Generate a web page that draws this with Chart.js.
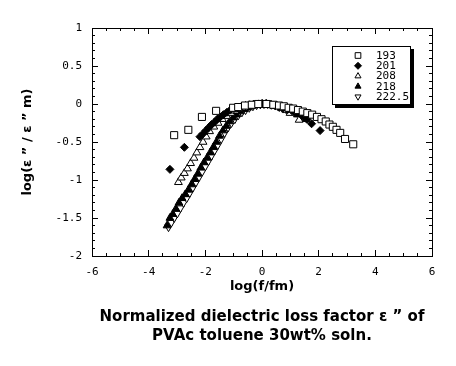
<!DOCTYPE html>
<html>
<head>
<meta charset="utf-8">
<script src="https://cdn.jsdelivr.net/npm/chart.js"></script>
<style>
  body { margin: 0; background: #fff; }
  #wrap { width: 456px; height: 366px; }
</style>
</head>
<body>
<div id="wrap"><canvas id="lossChart" width="456" height="366"></canvas></div>
<script>
// Normalized loss curves
const x193 = [-3.1, -2.6, -2.12, -1.62, -1.02, -0.84, -0.6, -0.36, -0.13, 0.16, 0.4, 0.6, 0.77, 0.94, 1.1, 1.27, 1.44, 1.6, 1.77, 1.94, 2.1, 2.25, 2.38, 2.5, 2.63, 2.76, 2.93, 3.22];
const y193 = [-0.41, -0.34, -0.17, -0.09, -0.05, -0.04, -0.02, -0.01, 0, 0, -0.01, -0.02, -0.03, -0.05, -0.06, -0.08, -0.1, -0.12, -0.14, -0.17, -0.2, -0.23, -0.27, -0.3, -0.34, -0.38, -0.46, -0.53];

const x201 = [-3.25, -2.74, -2.19, -2.08, -1.98, -1.88, -1.78, -1.68, -1.58, -1.47, -1.36, -1.24, -1.12, -0.99, -0.86, -0.72, -0.58, -0.44, -0.29, -0.14, 0.01, 0.16, 0.31, 0.46, 0.61, 0.76, 0.91, 1.06, 1.22, 1.4, 1.58, 1.75, 2.05];
const y201 = [-0.86, -0.57, -0.43, -0.39, -0.35, -0.31, -0.27, -0.24, -0.2, -0.17, -0.14, -0.11, -0.08, -0.06, -0.045, -0.03, -0.02, -0.01, 0, 0, 0, 0, -0.01, -0.02, -0.03, -0.05, -0.07, -0.09, -0.12, -0.15, -0.2, -0.26, -0.35];

const x208 = [-2.95, -2.85, -2.74, -2.63, -2.52, -2.4, -2.3, -2.19, -2.08, -1.97, -1.85, -1.7, -1.55, -1.4, -1.25, -1.1, -0.95, -0.8, -0.64, -0.48, -0.32, -0.16, 0, 0.16, 0.32, 0.5, 0.67, 0.85, 0.99, 1.31];
const y208 = [-1.03, -0.97, -0.91, -0.85, -0.78, -0.71, -0.64, -0.57, -0.5, -0.43, -0.36, -0.3, -0.25, -0.2, -0.16, -0.12, -0.09, -0.07, -0.05, -0.03, -0.02, -0.01, 0, 0, -0.01, -0.03, -0.05, -0.08, -0.12, -0.21];

const x218 = [-3.35, -3.25, -3.15, -3.04, -2.93, -2.82, -2.71, -2.6, -2.49, -2.38, -2.27, -2.16, -2.05, -1.94, -1.83, -1.72, -1.61, -1.5, -1.38, -1.26, -1.14, -1.02, -0.9, -0.77, -0.64, -0.51, -0.38, -0.25, -0.12, 0.01, 0.14, 0.27, 0.4, 0.54, 0.68, 0.82, 0.96, 1.1, 1.25, 1.4, 1.55];
const y218 = [-1.6, -1.5, -1.45, -1.38, -1.3, -1.24, -1.19, -1.13, -1.06, -0.99, -0.92, -0.84, -0.77, -0.71, -0.64, -0.57, -0.5, -0.42, -0.35, -0.29, -0.23, -0.18, -0.14, -0.1, -0.07, -0.05, -0.03, -0.015, -0.005, 0, 0, -0.01, -0.02, -0.03, -0.05, -0.07, -0.09, -0.11, -0.14, -0.17, -0.2];

const x222 = [-3.3, -3.2, -3.1, -2.99, -2.88, -2.77, -2.66, -2.55, -2.44, -2.33, -2.22, -2.11, -2.0, -1.89, -1.78, -1.67, -1.56, -1.44, -1.32, -1.2, -1.08, -0.96, -0.84, -0.71, -0.58, -0.45, -0.32, -0.19, -0.06, 0.07, 0.2, 0.33, 0.47, 0.61, 0.75, 0.9];
const y222 = [-1.62, -1.56, -1.5, -1.44, -1.37, -1.3, -1.24, -1.17, -1.1, -1.03, -0.96, -0.89, -0.82, -0.75, -0.68, -0.61, -0.54, -0.46, -0.38, -0.31, -0.25, -0.2, -0.15, -0.11, -0.08, -0.05, -0.03, -0.015, -0.005, 0, 0, -0.01, -0.02, -0.04, -0.06, -0.08];

const seriesLabels = ['193', '201', '208', '218', '222.5'];
const xRange = [-6, 6];
const yRange = [-2, 1];
const xTitle = 'log(f/fm)';
const yTitle = 'log(ε ” / ε ” m)';
const caption = ['Normalized dielectric loss factor ε ” of', 'PVAc toluene 30wt% soln.'];

const toPoints = (xs, ys) => xs.map((x, i) => ({ x: x, y: ys[i] }));
// plain numbers on the ticks: 1, 0.5, 0, -0.5 ...
const plainTick = v => String(Math.round(v * 10) / 10);

const monoFont = { family: '"DejaVu Sans Mono", monospace', size: 11 };
const boldFont = { family: '"DejaVu Sans", sans-serif', size: 13, weight: 'bold' };

// extra axes only draw the inward tick marks on each side of the frame
function tickAxis(pos, isX, step, len) {
  const r = isX ? xRange : yRange;
  return {
    type: 'linear',
    axis: isX ? 'x' : 'y',
    position: pos,
    min: r[0],
    max: r[1],
    weight: 0,
    ticks: { stepSize: step, display: false },
    grid: { drawOnChartArea: false, tickLength: len, tickColor: '#000', tickWidth: 1 },
    border: { color: '#000', width: 1 },
    afterFit: s => { if (isX) s.height = 0; else s.width = 0; }
  };
}

// legend box with drop shadow inside the plot
const legendBox = {
  id: 'legendBox',
  afterDatasetsDraw(chart) {
    const ctx = chart.ctx;
    const a = chart.chartArea;
    const bx = a.right - 100, by = a.top + 18, bw = 79, bh = 59;
    ctx.save();
    ctx.fillStyle = '#000';
    ctx.fillRect(bx + 3, by + 3, bw, bh);
    ctx.fillStyle = '#fff';
    ctx.fillRect(bx, by, bw, bh);
    ctx.strokeStyle = '#000';
    ctx.lineWidth = 1;
    ctx.strokeRect(bx + 0.5, by + 0.5, bw - 1, bh - 1);
    ctx.font = '11px "DejaVu Sans Mono", monospace';
    ctx.textBaseline = 'middle';
    chart.data.datasets.forEach((ds, i) => {
      const cy = by + 9.5 + i * 10.3;
      ctx.fillStyle = ds.backgroundColor;
      ctx.strokeStyle = '#000';
      ctx.lineWidth = 1;
      Chart.helpers.drawPoint(ctx, {
        pointStyle: ds.pointStyle,
        rotation: ds.rotation || 0,
        radius: ds.pointStyle === 'rect' ? 4 : 3.5,
        borderWidth: 1
      }, bx + 26, cy);
      ctx.fillStyle = '#000';
      ctx.fillText(ds.label, bx + 44, cy + 0.5);
    });
    ctx.restore();
  }
};

function series(i, xs, ys, style, fill, radius, rot) {
  return {
    label: seriesLabels[i],
    data: toPoints(xs, ys),
    pointStyle: style,
    rotation: rot || 0,
    pointRadius: radius,
    backgroundColor: fill,
    borderColor: '#000',
    borderWidth: 1
  };
}

new Chart(document.getElementById('lossChart'), {
  type: 'scatter',
  data: {
    datasets: [
      series(0, x193, y193, 'rect', '#fff', 5),
      series(1, x201, y201, 'rectRot', '#000', 4),
      series(2, x208, y208, 'triangle', '#fff', 4.5),
      series(3, x218, y218, 'triangle', '#000', 4.5),
      series(4, x222, y222, 'triangle', '#fff', 4.5, 180)
    ]
  },
  options: {
    responsive: false,
    animation: false,
    layout: { padding: { left: 0, right: 24, top: 28, bottom: 20.5 } },
    plugins: {
      legend: { display: false },
      tooltip: { enabled: false },
      title: {
        display: true,
        position: 'bottom',
        fullSize: false,
        text: caption,
        color: '#000',
        font: { family: '"DejaVu Sans", sans-serif', size: 15, weight: 'bold', lineHeight: 19 / 15 },
        padding: { top: 7.5, bottom: 0 }
      }
    },
    scales: {
      x: {
        type: 'linear',
        position: 'bottom',
        min: xRange[0],
        max: xRange[1],
        weight: 1,
        ticks: { stepSize: 2, color: '#000', font: monoFont, padding: 16, maxRotation: 0, callback: plainTick },
        grid: { drawOnChartArea: false, tickLength: -6, tickColor: '#000' },
        border: { color: '#000', width: 1 },
        title: { display: true, text: xTitle, color: '#000', font: boldFont, padding: { top: 0, bottom: 5.2 } },
        afterFit: s => { s.height = 44; }
      },
      y: {
        type: 'linear',
        position: 'left',
        min: yRange[0],
        max: yRange[1],
        weight: 1,
        ticks: { stepSize: 0.5, color: '#000', font: monoFont, padding: 16, callback: plainTick },
        grid: { drawOnChartArea: false, tickLength: -6, tickColor: '#000' },
        border: { color: '#000', width: 1 },
        title: { display: true, text: yTitle, color: '#000', font: boldFont, padding: { top: 20, bottom: 0 } },
        afterFit: s => { s.width = 92; }
      },
      xMinor: tickAxis('bottom', true, 0.5, -3),
      xTop: tickAxis('top', true, 2, -6),
      xTopMinor: tickAxis('top', true, 0.5, -3),
      yMinor: tickAxis('left', false, 0.1, -3),
      yRight: tickAxis('right', false, 0.5, -6),
      yRightMinor: tickAxis('right', false, 0.1, -3)
    }
  },
  plugins: [legendBox]
});
</script>
</body>
</html>
